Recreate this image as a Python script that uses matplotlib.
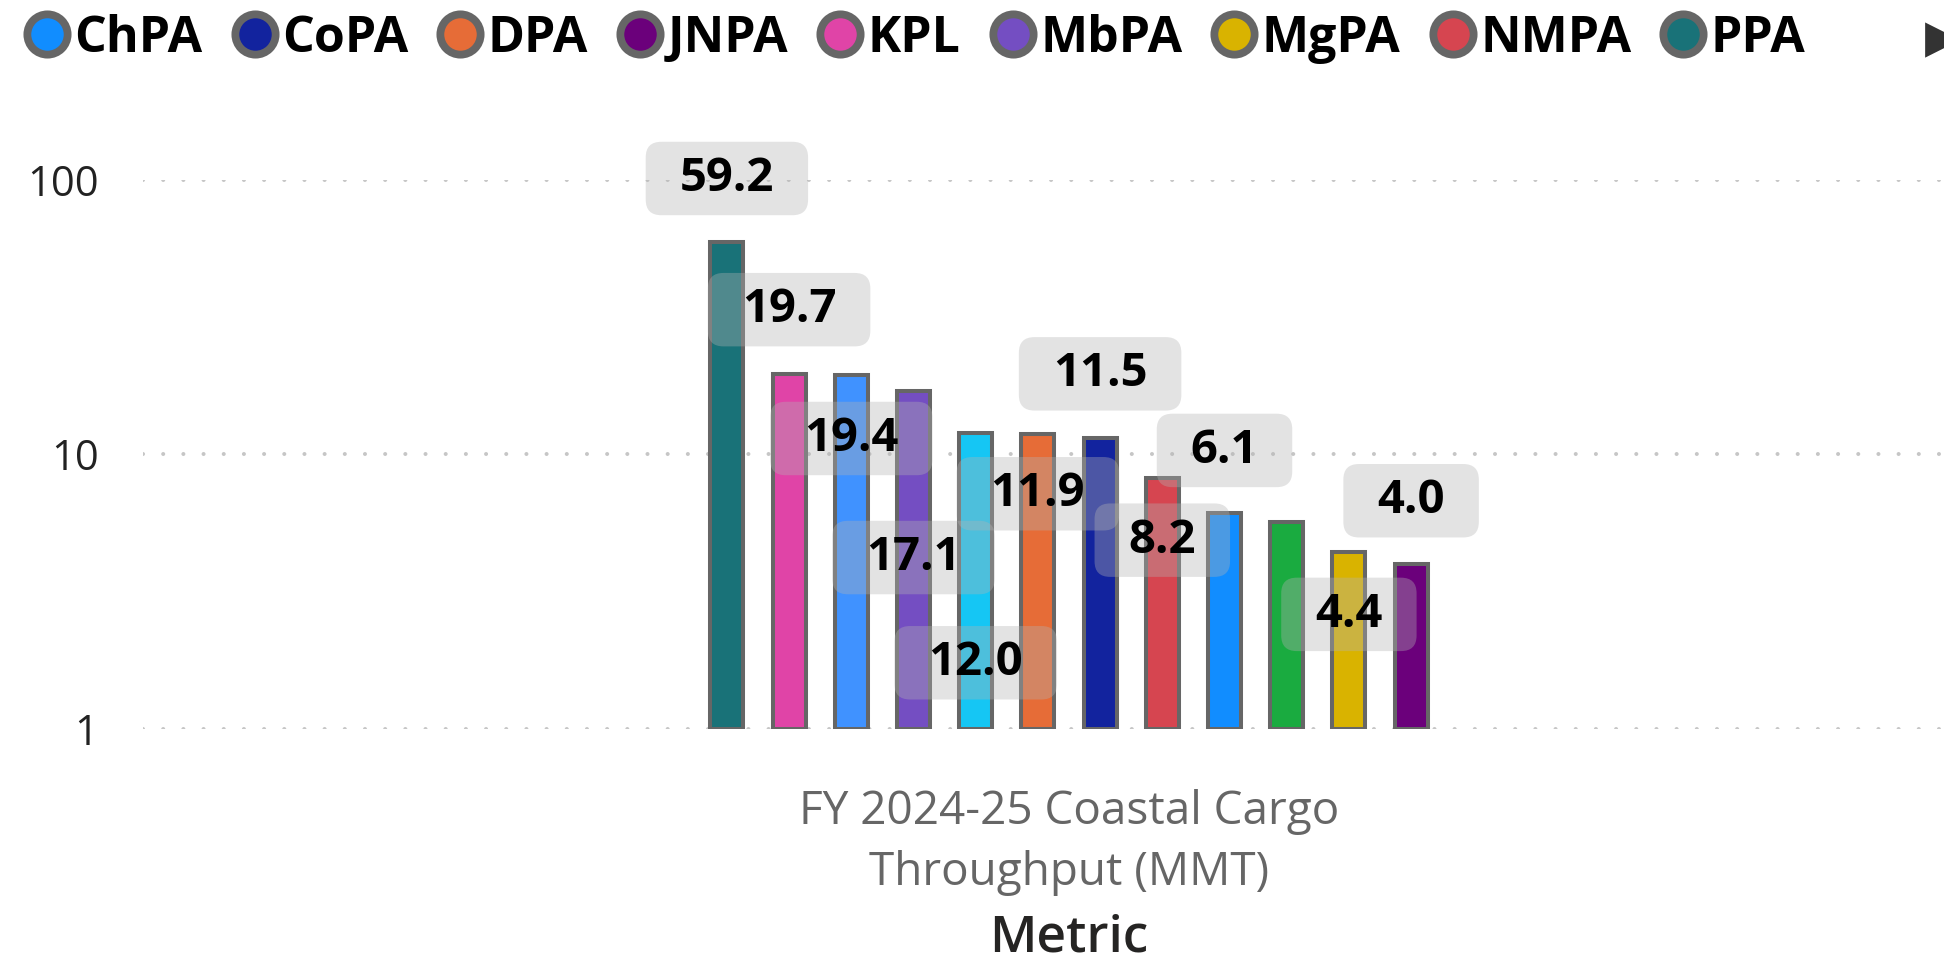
import matplotlib
matplotlib.use('Agg')
import matplotlib.pyplot as plt
import numpy as np
from matplotlib.lines import Line2D
from matplotlib.patches import BoxStyle

plt.rcParams['font.family'] = ['Open Sans', 'DejaVu Sans']

# Data (bars in the order they appear, largest first)
ports = ['PPA', 'KPL', 'VPA', 'MbPA', 'VOCPA', 'DPA', 'CoPA', 'NMPA', 'ChPA', 'SMPK', 'MgPA', 'JNPA']
cargo = [59.2, 19.7, 19.4, 17.1, 12.0, 11.9, 11.5, 8.2, 6.1, 5.7, 4.4, 4.0]
category = 'FY 2024-25 Coastal Cargo\nThroughput (MMT)'
legend_ports = ['ChPA', 'CoPA', 'DPA', 'JNPA', 'KPL', 'MbPA', 'MgPA', 'NMPA', 'PPA']

port_colors = {
    'ChPA': '#118DFF', 'CoPA': '#12239E', 'DPA': '#E66C37', 'JNPA': '#6B007B',
    'KPL': '#E044A7', 'MbPA': '#744EC2', 'MgPA': '#D9B300', 'NMPA': '#D64550',
    'PPA': '#197278', 'SMPK': '#1AAB40', 'VOCPA': '#15C6F4', 'VPA': '#4092FF',
}

# label placement, pixels below the bar top (negative = above); None = hidden
label_shift = [-64, -64, 63, 167, 230, 60, -64, 62, -63, None, 62, -63]


def label_box(x0, y0, width, height, mutation_size):
    px = 0.72 * mutation_size
    py = 0.28 * mutation_size
    rnd = BoxStyle.Round(pad=0, rounding_size=0.33)
    return rnd(x0 - px, y0 - py, width + 2 * px, height + 2 * py, mutation_size)


W, H = 1944, 963
fig = plt.figure(figsize=(W / 100, H / 100), dpi=100)
ax = fig.add_axes([143 / W, (H - 729) / H, 1 - 143 / W, (729 - 180) / H])

x = np.arange(len(ports)) - (len(ports) - 1) / 2
heights = np.array(cargo) - 1
ax.bar(x, heights, bottom=1, width=0.53,
       color=[port_colors[p] for p in ports],
       edgecolor='#666666', linewidth=2.9, zorder=2)

ax.set_yscale('log')
ax.set_ylim(1, 100)
ax.set_xlim(-(1069 - 143) / 62.2, (W - 1069) / 62.2)
ax.yaxis.set_minor_locator(matplotlib.ticker.NullLocator())
ax.set_yticks([1, 10, 100], ['1', '10', '100'])
ax.set_xticks([0], [category])

ax.tick_params(axis='y', length=0, pad=32, labelsize=30, labelcolor='#222222')
ax.tick_params(axis='x', length=0, pad=43, labelsize=33, labelcolor='#666666')
for t in ax.get_xticklabels():
    t.set_linespacing(1.43)
ax.set_xlabel('Metric', fontsize=37, color='#252423', fontweight='semibold', labelpad=13)
ax.xaxis.label.set_x((1069 - 143) / (W - 143))

ax.yaxis.grid(True, color='#C6C6C6', linewidth=2.9, linestyle=(0, (0.01, 5.0)),
              dash_capstyle='round')
ax.set_axisbelow(True)
for s in ax.spines.values():
    s.set_visible(False)

for xi, v, sh in zip(x, cargo, label_shift):
    if sh is None:
        continue
    ax.annotate(f'{v:.1f}', xy=(xi, v), xytext=(0, -sh), textcoords='offset pixels',
                ha='center', va='center', fontsize=34, fontweight='bold', color='black',
                annotation_clip=False, zorder=5,
                bbox=dict(boxstyle=label_box, facecolor='#B3B3B3', alpha=0.36,
                          edgecolor='none'))

handles = [Line2D([], [], marker='o', linestyle='', markersize=29,
                  markerfacecolor=port_colors[p], markeredgecolor='#666666',
                  markeredgewidth=5.6) for p in legend_ports]
fig.legend(handles, legend_ports, loc='center left', bbox_to_anchor=(22 / W, 1 - 39 / H),
           ncol=len(legend_ports), frameon=False, borderpad=0, borderaxespad=0,
           handlelength=1.0, handletextpad=0.05, columnspacing=0.54,
           prop={'size': 36, 'weight': 'bold'})
fig.text(1925 / W, 1 - 40 / H, '\u25B6', fontsize=33, color='#333333',
         family='DejaVu Sans', ha='left', va='center')

fig.savefig('out.png', dpi=100)
